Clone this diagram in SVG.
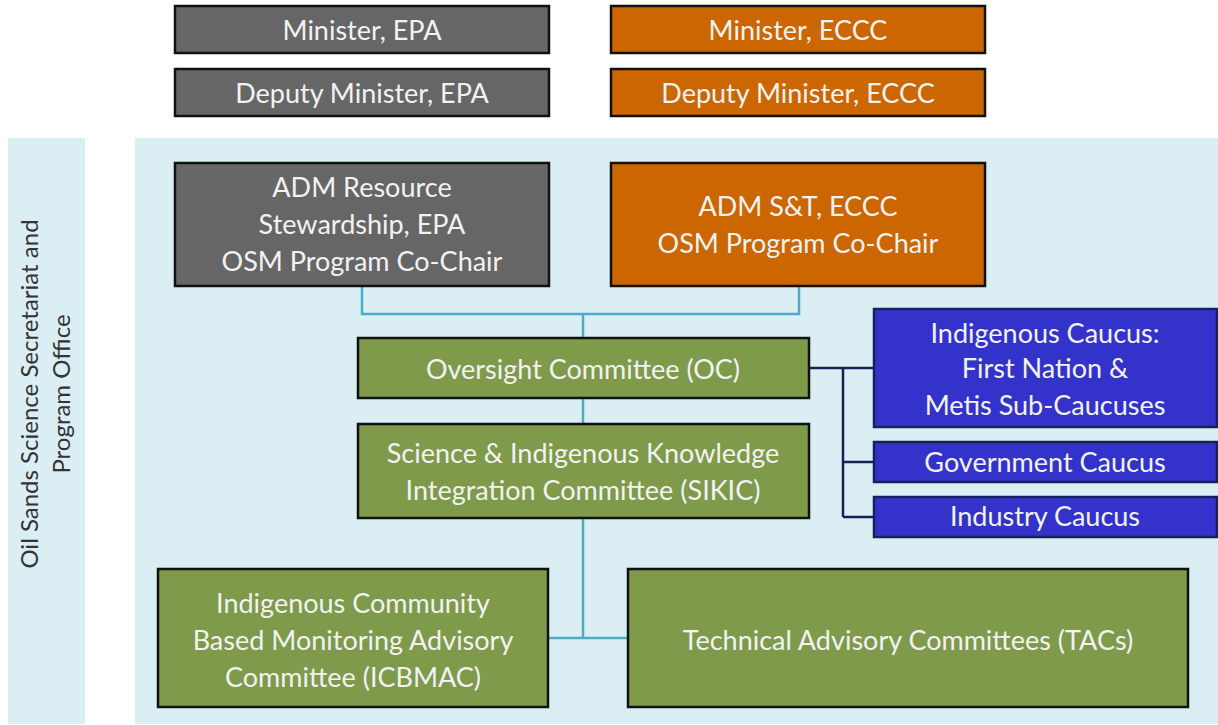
<svg xmlns="http://www.w3.org/2000/svg" width="1218" height="725" viewBox="0 0 1218 725">
<style>
text{font-family:Lato,"Open Sans","Liberation Sans",sans-serif;font-size:27px;fill:#F2F2F2;text-anchor:middle}
.panel{fill:#DAEEF3}
.b{stroke:#111;stroke-width:2.5}
.gray{fill:#666666}
.orange{fill:#CC6600}
.green{fill:#7F9A4B}
.blue{fill:#3333CC;stroke:#14215A;stroke-width:2.5}
.lt{fill:none;stroke:#4BACC6;stroke-width:2.5}
.dk{fill:none;stroke:#14215A;stroke-width:2.5}
.side{fill:#333;font-size:24px}
</style>
<rect width="1218" height="725" fill="#fff"/>
<g id="secretariat">
<rect class="panel" x="8" y="138" width="77" height="586"/>
<text class="side" transform="translate(38,394) rotate(-90)">Oil Sands Science Secretariat and</text>
<text class="side" transform="translate(70,394) rotate(-90)">Program Office</text>
</g>
<rect class="panel" x="135" y="138" width="1083" height="586"/>
<g id="connectors">
<path class="lt" d="M362,286V314H799V286M583,314V338M583,398V424M583,518V638M548,638H628"/>
<path class="dk" d="M809,368H874M843,368V517M843,462H874M843,517H874"/>
</g>
<g id="minister-epa"><rect class="gray b" x="175" y="6" width="374" height="47"/><text x="362" y="40">Minister, EPA</text></g>
<g id="deputy-epa"><rect class="gray b" x="175" y="69" width="374" height="47"/><text x="362" y="103">Deputy Minister, EPA</text></g>
<g id="minister-eccc"><rect class="orange b" x="611" y="6" width="374" height="47"/><text x="798" y="40">Minister, ECCC</text></g>
<g id="deputy-eccc"><rect class="orange b" x="611" y="69" width="374" height="47"/><text x="798" y="103">Deputy Minister, ECCC</text></g>
<g id="adm-epa"><rect class="gray b" x="175" y="163" width="374" height="123"/>
<text x="362" y="197">ADM Resource</text><text x="362" y="234">Stewardship, EPA</text><text x="362" y="271">OSM Program Co-Chair</text></g>
<g id="adm-eccc"><rect class="orange b" x="611" y="163" width="374" height="123"/>
<text x="798" y="216">ADM S&amp;T, ECCC</text><text x="798" y="253">OSM Program Co-Chair</text></g>
<g id="oc"><rect class="green b" x="358" y="338" width="451" height="60"/><text x="583" y="379">Oversight Committee (OC)</text></g>
<g id="sikic"><rect class="green b" x="358" y="424" width="451" height="94"/>
<text x="583" y="463">Science &amp; Indigenous Knowledge</text><text x="583" y="500">Integration Committee (SIKIC)</text></g>
<g id="icbmac"><rect class="green b" x="158" y="569" width="390" height="138"/>
<text x="353" y="613">Indigenous Community</text><text x="353" y="650">Based Monitoring Advisory</text><text x="353" y="687">Committee (ICBMAC)</text></g>
<g id="tacs"><rect class="green b" x="628" y="569" width="560" height="138"/><text x="908" y="650">Technical Advisory Committees (TACs)</text></g>
<g id="indigenous-caucus"><rect class="blue" x="874" y="309" width="343" height="118"/>
<text x="1045" y="343">Indigenous Caucus:</text><text x="1045" y="378">First Nation &amp;</text><text x="1045" y="415">Metis Sub-Caucuses</text></g>
<g id="government-caucus"><rect class="blue" x="874" y="442" width="343" height="40"/><text x="1045" y="472">Government Caucus</text></g>
<g id="industry-caucus"><rect class="blue" x="874" y="497" width="343" height="40"/><text x="1045" y="526">Industry Caucus</text></g>
</svg>
